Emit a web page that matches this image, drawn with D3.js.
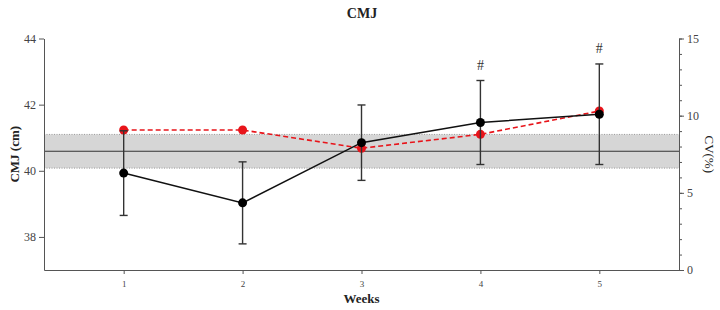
<!DOCTYPE html>
<html>
<head>
<meta charset="utf-8">
<script src="https://cdn.jsdelivr.net/npm/d3@7"></script>
<style>
  html, body { margin: 0; padding: 0; background: #fff; }
  svg { display: block; font-family: "Liberation Serif", "DejaVu Serif", serif; }
</style>
</head>
<body>
<div id="chart"></div>
<script>
// CMJ across weeks: mean ± SD (left axis) and CV (right axis)
const weeks = [1, 2, 3, 4, 5];
const cmjMean = [39.93, 39.03, 40.85, 41.46, 41.71];
const cmjSd = [1.28, 1.24, 1.14, 1.27, 1.52];
const cvValues = [9.07, 9.07, 7.89, 8.79, 10.3];
const markedWeeks = [4, 5];
const bandLow = 40.08, bandMid = 40.59, bandHigh = 41.10;
const leftTicks = [38, 40, 42, 44];
const rightTicks = [0, 5, 10, 15];

const width = 720, height = 310;
const margin = {top: 38.5, right: 41, bottom: 40, left: 44};

const svg = d3.select('#chart').append('svg')
  .attr('width', width).attr('height', height);

const x = d3.scaleLinear().domain([0.33, 5.67]).range([margin.left, width - margin.right]);
const y = d3.scaleLinear().domain([37, 44]).range([height - margin.bottom, margin.top]);
const y2 = d3.scaleLinear().domain([0, 15]).range([height - margin.bottom, margin.top]);

const axisColor = '#555';
const intFmt = d3.format('d');

// Reference band (shaded) with dotted edges and solid mean line
svg.append('rect')
  .attr('x', x.range()[0]).attr('width', x.range()[1] - x.range()[0])
  .attr('y', y(bandHigh)).attr('height', y(bandLow) - y(bandHigh))
  .attr('fill', '#d6d6d6');
[bandLow, bandHigh].forEach(v => {
  svg.append('line')
    .attr('x1', x.range()[0]).attr('x2', x.range()[1])
    .attr('y1', y(v)).attr('y2', y(v))
    .attr('stroke', '#888').attr('stroke-width', 0.8).attr('stroke-dasharray', '1,1.5');
});
svg.append('line')
  .attr('x1', x.range()[0]).attr('x2', x.range()[1])
  .attr('y1', y(bandMid)).attr('y2', y(bandMid))
  .attr('stroke', '#333').attr('stroke-width', 1.2);

// Axes
const leftAxis = svg.append('g')
  .attr('transform', `translate(${margin.left},0)`)
  .call(d3.axisLeft(y).tickValues(leftTicks).tickFormat(intFmt).tickSize(5).tickSizeOuter(0));
const bottomAxis = svg.append('g')
  .attr('transform', `translate(0,${height - margin.bottom})`)
  .call(d3.axisBottom(x).tickValues(weeks).tickFormat(intFmt).tickSize(4).tickSizeOuter(0));
const rightAxisMinor = svg.append('g')
  .attr('transform', `translate(${width - margin.right},0)`)
  .call(d3.axisRight(y2).tickValues(d3.range(0, 16)).tickSize(3).tickFormat('').tickSizeOuter(0));
const rightAxis = svg.append('g')
  .attr('transform', `translate(${width - margin.right},0)`)
  .call(d3.axisRight(y2).tickValues(rightTicks).tickFormat(intFmt).tickSize(5).tickSizeOuter(0));

[leftAxis, bottomAxis, rightAxis, rightAxisMinor].forEach(g => {
  g.selectAll('path, line').attr('stroke', axisColor);
  g.selectAll('text').attr('fill', '#444').style('font-family', '"Liberation Serif", serif');
});
leftAxis.selectAll('text').style('font-size', '12px');
rightAxis.selectAll('text').style('font-size', '12px');
bottomAxis.selectAll('text').style('font-size', '9px').attr('dy', '1.1em');
rightAxisMinor.select('path').remove();

// CV series (red dashed) drawn beneath the CMJ series
const cvLine = d3.line().x((d, i) => x(weeks[i])).y(d => y2(d));
svg.append('path')
  .datum(cvValues)
  .attr('d', cvLine)
  .attr('fill', 'none')
  .attr('stroke', '#e8141a')
  .attr('stroke-width', 1.6)
  .attr('stroke-dasharray', '5,3');
svg.selectAll('circle.cv').data(cvValues).join('circle')
  .attr('class', 'cv')
  .attr('cx', (d, i) => x(weeks[i])).attr('cy', d => y2(d))
  .attr('r', 4.5).attr('fill', '#e8141a');

// Error bars
const cap = 4;
const bars = svg.append('g').attr('stroke', '#333').attr('stroke-width', 1.4);
weeks.forEach((w, i) => {
  const top = y(cmjMean[i] + cmjSd[i]);
  const bot = y(cmjMean[i] - cmjSd[i]);
  bars.append('line').attr('x1', x(w)).attr('x2', x(w)).attr('y1', top).attr('y2', bot);
  bars.append('line').attr('x1', x(w) - cap).attr('x2', x(w) + cap).attr('y1', top).attr('y2', top);
  bars.append('line').attr('x1', x(w) - cap).attr('x2', x(w) + cap).attr('y1', bot).attr('y2', bot);
});

// CMJ mean line
const cmjLine = d3.line().x((d, i) => x(weeks[i])).y(d => y(d));
svg.append('path')
  .datum(cmjMean)
  .attr('d', cmjLine)
  .attr('fill', 'none')
  .attr('stroke', '#111')
  .attr('stroke-width', 1.5);
svg.selectAll('circle.cmj').data(cmjMean).join('circle')
  .attr('class', 'cmj')
  .attr('cx', (d, i) => x(weeks[i])).attr('cy', d => y(d))
  .attr('r', 4.5).attr('fill', '#000');

// Significance markers
markedWeeks.forEach(w => {
  const i = weeks.indexOf(w);
  svg.append('text')
    .attr('x', x(w)).attr('y', y(cmjMean[i] + cmjSd[i]) - 11)
    .attr('text-anchor', 'middle')
    .style('font-size', '14px').attr('fill', '#333')
    .text('#');
});

// Titles
svg.append('text')
  .attr('x', 362).attr('y', 18).attr('text-anchor', 'middle')
  .style('font-size', '14px').style('font-weight', 'bold').attr('fill', '#222')
  .text('CMJ');
svg.append('text')
  .attr('x', (x.range()[0] + x.range()[1]) / 2).attr('y', 303).attr('text-anchor', 'middle')
  .style('font-size', '13px').style('font-weight', 'bold').attr('fill', '#222')
  .text('Weeks');
svg.append('text')
  .attr('transform', `translate(19,${(y.range()[0] + y.range()[1]) / 2}) rotate(-90)`)
  .attr('text-anchor', 'middle')
  .style('font-size', '13px').style('font-weight', 'bold').attr('fill', '#222')
  .text('CMJ (cm)');
svg.append('text')
  .attr('transform', `translate(705,${(y.range()[0] + y.range()[1]) / 2}) rotate(90)`)
  .attr('text-anchor', 'middle')
  .style('font-size', '13px').attr('fill', '#222')
  .text('CV(%)');
</script>
</body>
</html>
